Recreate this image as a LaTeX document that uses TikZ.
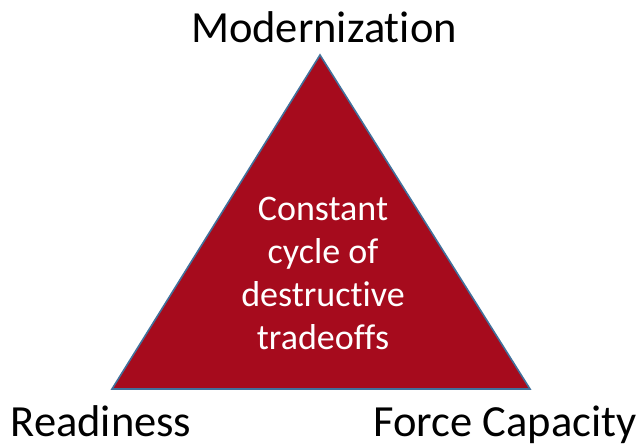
\documentclass[tikz,border=0pt]{standalone}
\usepackage{fontspec}
\setmainfont{Carlito}[Ligatures={NoCommon}]
\definecolor{tradered}{RGB}{166,11,29}
\definecolor{edgeblue}{RGB}{65,113,156}
\tikzset{
  corner label/.style={anchor=base, font=\fontsize{44.5}{53}\selectfont},
  inner text/.style={align=center, text=white, font=\fontsize{36}{43}\selectfont}
}
\begin{document}
\begin{tikzpicture}[x=1pt, y=1pt]
    \useasboundingbox (0, 0) rectangle (643, 444);
    \coordinate (M) at (320, 389);
    \coordinate (R) at (112, 55);
    \coordinate (F) at (530, 55);
    \draw [edgeblue, line width=1.6pt, fill=tradered, line join=miter]
          (M) -- (R) -- (F) -- cycle;
    \node [corner label] (modern) at (324, 401) {Modernization};
    \node [corner label] (ready) at (101, 7) {Readiness};
    \node [corner label] (force) at (505, 7) {Force Capacity};
    \node [inner text] (cycle) at (323, 171)
          {Constant\\cycle of\\destructive\\tradeoffs};
  \end{tikzpicture}
\end{document}
